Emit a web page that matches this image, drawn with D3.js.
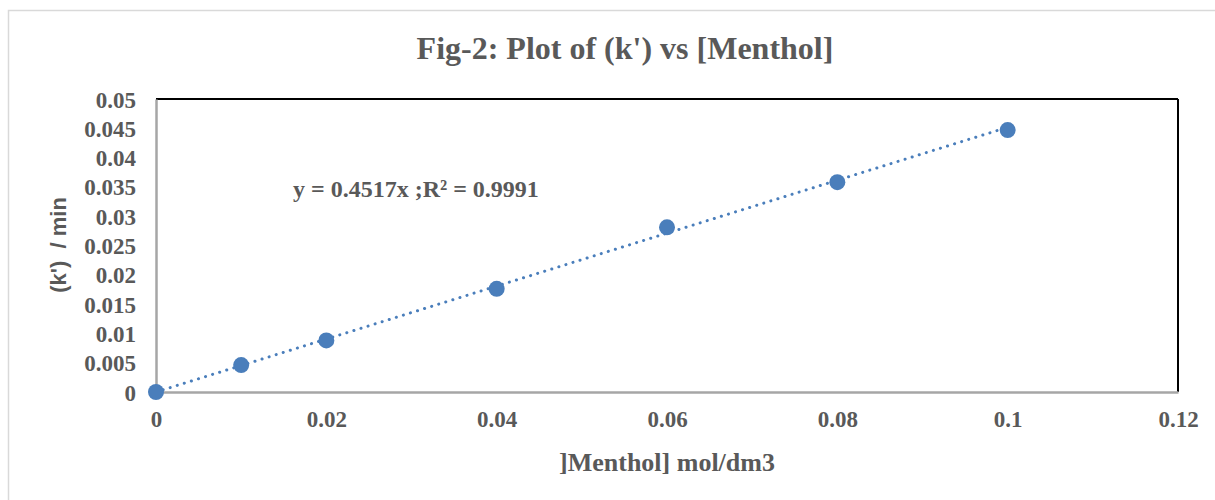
<!DOCTYPE html>
<html>
<head>
<meta charset="utf-8">
<script src="https://cdn.jsdelivr.net/npm/d3@7"></script>
<style>
  body { margin: 0; background: #fff; }
  svg { display: block; }
</style>
</head>
<body>
<svg id="chart" width="1215" height="500"></svg>
<script>
// data
var menthol = [0, 0.01, 0.02, 0.04, 0.06, 0.08, 0.1];
var kPrime = [0, 0.0046, 0.0088, 0.0176, 0.0281, 0.0358, 0.0447];
var xTicks = [0, 0.02, 0.04, 0.06, 0.08, 0.1, 0.12];
var yTicks = [0, 0.005, 0.01, 0.015, 0.02, 0.025, 0.03, 0.035, 0.04, 0.045, 0.05];
var slope = 0.4517;

var svg = d3.select("#chart");
var margin = {top: 99, right: 37, bottom: 108, left: 156};
var width = 1215 - margin.left - margin.right;
var height = 500 - margin.top - margin.bottom;

var grey = "#595959";
var serif = "'Liberation Serif', 'Times New Roman', serif";

// outer chart frame
svg.append("rect")
    .attr("x", 8.5).attr("y", 10.5)
    .attr("width", 1230).attr("height", 520)
    .attr("fill", "none")
    .attr("stroke", "#d9d9d9")
    .attr("stroke-width", 1.5);

var g = svg.append("g").attr("transform", "translate(" + margin.left + "," + margin.top + ")");

var x = d3.scaleLinear().domain([0, 0.12]).range([0, width]);
var y = d3.scaleLinear().domain([0, 0.05]).range([height, 0]);

// plot border: top/right dark, left/bottom axes grey
g.append("line").attr("x1", 0).attr("x2", width).attr("y1", 0).attr("y2", 0)
    .attr("stroke", "#000").attr("stroke-width", 2);
g.append("line").attr("x1", width).attr("x2", width).attr("y1", 0).attr("y2", height)
    .attr("stroke", "#000").attr("stroke-width", 2);

var xAxis = g.append("g")
    .attr("transform", "translate(0," + height + ")")
    .call(d3.axisBottom(x).tickValues(xTicks).tickSize(0).tickPadding(19).tickFormat(d3.format("~g")));
var yAxis = g.append("g")
    .call(d3.axisLeft(y).tickValues(yTicks).tickSize(0).tickPadding(20).tickFormat(d3.format("~g")));

[xAxis, yAxis].forEach(function(a) {
  a.select(".domain").attr("stroke", "#a6a6a6").attr("stroke-width", 2.5);
  a.selectAll("text")
      .attr("fill", grey)
      .style("font-family", serif)
      .style("font-weight", "bold")
      .style("font-size", "23px");
});
yAxis.selectAll("text").attr("dy", "0.35em");

// trendline y = 0.4517x
g.append("path")
    .datum([0, 0.1])
    .attr("fill", "none")
    .attr("stroke", "#4a7ebb")
    .attr("stroke-width", 3)
    .attr("stroke-linecap", "round")
    .attr("stroke-dasharray", "0.1 7.3")
    .attr("d", d3.line().x(function(d) { return x(d); }).y(function(d) { return y(slope * d); }));

g.selectAll("circle")
    .data(menthol)
    .enter().append("circle")
    .attr("cx", function(d) { return x(d); })
    .attr("cy", function(d, i) { return y(kPrime[i]); })
    .attr("r", 8)
    .attr("fill", "#4a7ebb");

svg.append("text")
    .attr("x", 625).attr("y", 59)
    .attr("text-anchor", "middle")
    .attr("fill", grey)
    .style("font-family", serif).style("font-weight", "bold").style("font-size", "32px")
    .text("Fig-2: Plot of (k') vs [Menthol]");

svg.append("text")
    .attr("x", 293).attr("y", 197)
    .attr("fill", grey)
    .style("font-family", serif).style("font-weight", "bold").style("font-size", "24px")
    .text("y = 0.4517x ;R² = 0.9991");

svg.append("text")
    .attr("x", 667).attr("y", 471)
    .attr("text-anchor", "middle")
    .attr("fill", grey)
    .style("font-family", serif).style("font-weight", "bold").style("font-size", "26px")
    .text("]Menthol] mol/dm3");

svg.append("text")
    .attr("transform", "translate(66,245) rotate(-90)")
    .attr("text-anchor", "middle")
    .attr("fill", grey)
    .attr("xml:space", "preserve")
    .style("font-family", "'Liberation Sans', Arial, sans-serif").style("font-weight", "bold").style("font-size", "22px")
    .text("(k')  / min");
</script>
</body>
</html>
